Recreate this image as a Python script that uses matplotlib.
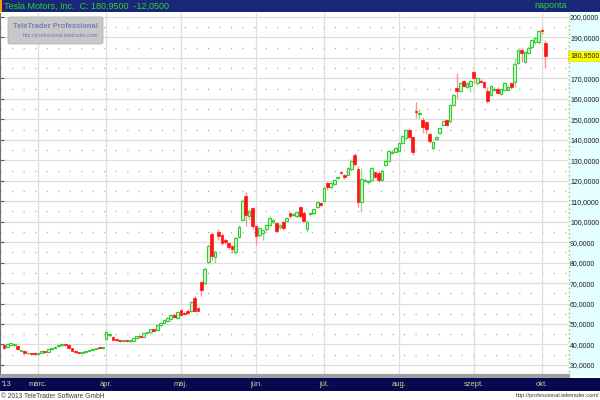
import numpy as np
import matplotlib
matplotlib.use('Agg')
import matplotlib.pyplot as plt
from matplotlib.patches import Rectangle, FancyBboxPatch
from matplotlib.transforms import blended_transform_factory

plt.rcParams['font.family'] = ['Liberation Sans', 'DejaVu Sans']

# daily candles, Feb 14 2013 .. Oct 2 2013 (trading days)
opens = [
  # feb
  39.6, 38.6, 39.8, 39.6, 39.4, 37.0, 37.0, 35.6, 35.8, 35.9,
  # mar
  35.4, 35.8, 36.9, 36.5, 37.7, 38.3, 39.1, 39.6, 39.9, 39.9,
  38.2, 37.0, 36.3, 36.0, 36.4, 36.8, 37.3, 38.0, 38.3, 38.2,
  # apr
  42.8, 44.8, 43.8, 42.4, 42.0, 41.8, 42.2, 41.6, 41.9, 43.2, 44.0,
  43.8, 45.5, 46.0, 47.4, 46.9, 49.3, 50.6, 51.5, 52.6, 54.3, 53.0,
  # may
  56.8, 55.6, 56.6, 56.2, 62.6, 57.8, 70.4, 70.2, 80.5, 94.0, 82.5,
  95.0, 93.4, 91.2, 89.4, 88.0, 85.0, 92.6, 101.0, 112.5, 102.8, 106.5,
  # jun
  97.8, 93.6, 94.6, 96.2, 98.6, 100.0, 99.4, 97.2, 100.0, 100.2,
  104.2, 103.2, 102.6, 107.0, 104.4, 96.4, 103.6, 104.2, 107.2, 109.0,
  # jul
  110.0, 119.0, 116.8, 118.6, 121.4, 124.4, 122.8, 123.0, 125.6, 132.4, 125.8,
  109.6, 120.0, 119.2, 120.6, 124.2, 124.0, 120.2, 127.8, 129.4, 133.6, 134.2,
  # aug
  134.4, 138.6, 141.0, 145.0, 141.2, 154.2, 152.4, 149.6, 148.6, 143.0, 136.2,
  140.6, 143.4, 147.2, 149.6, 149.0, 157.2, 165.2, 164.0, 168.6, 165.8, 166.2,
  # sep
  173.0, 167.8, 168.8, 168.2, 163.6, 162.0, 164.2, 165.0, 162.6, 164.4,
  164.2, 167.6, 168.4, 177.6, 184.0, 178.2, 182.6, 185.4, 187.6, 188.0,
  # oct
  193.6, 187.5,
]
highs = [
  40.0, 40.6, 40.8, 40.4, 39.6, 37.4, 37.2, 36.2, 36.0, 36.2,
  36.0, 36.9, 37.0, 37.8, 38.5, 39.2, 39.7, 40.2, 40.2, 40.1,
  38.4, 37.2, 36.5, 36.6, 37.0, 37.5, 38.1, 38.4, 38.6, 38.5,
  47.2, 45.8, 44.2, 42.8, 42.4, 42.4, 42.4, 42.2, 43.4, 44.2, 44.4,
  45.9, 46.2, 47.8, 47.6, 49.6, 51.0, 52.4, 53.2, 54.8, 55.0, 56.2,
  57.4, 56.2, 57.2, 61.0, 63.6, 58.2, 71.0, 78.0, 89.0, 95.0, 86.2,
  96.5, 94.5, 92.0, 90.0, 88.8, 93.0, 98.2, 111.0, 114.5, 106.2, 107.0,
  98.6, 97.5, 96.6, 98.8, 102.6, 101.2, 99.8, 99.0, 100.6, 102.2,
  104.8, 104.2, 105.0, 107.6, 105.0, 100.6, 104.8, 106.4, 110.0, 109.6,
  117.6, 119.6, 119.6, 121.0, 122.4, 125.0, 123.4, 126.6, 130.4, 133.4, 127.0,
  126.0, 121.2, 120.6, 126.6, 125.0, 124.6, 125.6, 130.4, 135.2, 134.8, 136.4,
  138.8, 142.4, 145.4, 145.6, 141.8, 158.5, 155.0, 151.0, 149.2, 143.6, 139.6,
  142.0, 146.0, 149.6, 150.2, 157.4, 162.4, 172.6, 168.4, 169.2, 168.0, 169.4,
  173.6, 170.8, 169.6, 168.6, 166.0, 167.0, 165.6, 165.6, 165.4, 168.2,
  166.6, 168.4, 180.0, 184.6, 185.0, 183.6, 185.6, 189.2, 190.2, 193.8,
  194.6, 188.8,
]
lows = [
  38.0, 38.4, 39.4, 39.2, 37.4, 36.6, 35.4, 35.2, 34.9, 35.1,
  35.1, 35.6, 36.0, 36.4, 37.5, 38.1, 38.9, 39.3, 39.5, 38.0,
  36.8, 36.0, 35.8, 35.9, 36.2, 36.6, 37.1, 37.8, 38.0, 37.9,
  42.4, 43.6, 42.0, 41.6, 41.4, 41.4, 41.3, 41.2, 41.7, 42.9, 43.4,
  43.6, 45.0, 45.8, 46.5, 46.7, 49.0, 50.3, 51.0, 52.2, 53.0, 52.4,
  53.8, 54.4, 55.0, 55.8, 55.8, 56.2, 63.6, 69.0, 79.5, 81.5, 80.0,
  91.0, 88.5, 89.0, 86.5, 84.8, 84.0, 92.0, 100.5, 98.0, 100.8, 96.5,
  88.6, 92.5, 91.0, 95.6, 98.0, 99.4, 95.0, 96.4, 96.0, 99.6,
  102.0, 102.8, 102.0, 102.0, 99.6, 95.0, 103.0, 103.8, 106.8, 107.6,
  109.6, 115.6, 115.8, 118.0, 121.0, 123.2, 121.0, 122.6, 125.0, 127.4, 107.0,
  104.7, 119.4, 118.6, 120.0, 121.4, 119.4, 119.8, 127.4, 129.0, 133.0, 133.8,
  134.0, 138.0, 140.4, 141.0, 132.6, 150.7, 150.4, 143.5, 143.0, 138.6, 134.8,
  140.0, 143.0, 146.6, 146.8, 148.4, 156.8, 160.4, 163.2, 165.6, 165.2, 163.4,
  167.8, 166.6, 167.6, 165.4, 158.0, 161.4, 163.6, 162.2, 162.0, 164.0,
  163.8, 165.0, 166.0, 176.8, 178.0, 177.4, 182.0, 185.0, 187.0, 186.8,
  191.8, 175.0,
]
closes = [
  38.4, 40.2, 40.5, 40.0, 37.6, 37.2, 35.8, 35.9, 35.2, 35.4,
  35.8, 36.7, 36.3, 37.6, 38.3, 39.0, 39.5, 39.9, 39.8, 38.3,
  37.0, 36.2, 36.0, 36.4, 36.8, 37.3, 37.9, 38.3, 38.2, 38.4,
  46.0, 45.2, 42.4, 42.0, 41.8, 42.1, 41.6, 41.9, 43.2, 43.9, 43.7,
  45.6, 45.9, 47.5, 46.8, 49.3, 50.6, 52.0, 52.8, 54.4, 53.4, 55.8,
  54.2, 54.8, 55.6, 60.6, 56.4, 56.6, 66.8, 77.0, 88.0, 83.0, 85.2,
  92.8, 89.8, 90.2, 87.6, 86.5, 92.0, 97.4, 110.0, 103.5, 105.0, 97.8,
  93.0, 96.8, 96.0, 98.4, 102.0, 100.7, 95.6, 98.4, 96.8, 101.8,
  102.6, 103.8, 104.6, 102.6, 100.4, 100.0, 104.2, 106.0, 109.4, 108.2,
  116.6, 116.8, 119.0, 120.4, 122.0, 123.8, 121.8, 126.0, 129.8, 128.0, 109.4,
  121.0, 120.6, 120.0, 126.0, 122.0, 120.6, 125.0, 129.8, 134.6, 134.2, 135.8,
  138.2, 141.8, 144.8, 141.6, 134.2, 153.4, 153.0, 146.2, 145.2, 139.4, 139.0,
  141.4, 145.6, 149.0, 147.4, 156.8, 161.8, 163.6, 167.8, 166.2, 167.6, 168.8,
  170.2, 170.2, 168.2, 166.0, 159.2, 166.4, 165.0, 163.0, 164.8, 167.6,
  166.0, 165.6, 177.2, 183.8, 182.6, 183.0, 184.8, 188.6, 189.6, 193.4,
  193.0, 180.95,
]

month_labels = ["márc.", "ápr.", "máj.", "jún.", "júl.", "aug.", "szept.", "okt."]
month_starts = [10, 30, 52, 74, 94, 116, 138, 158]
price_ticks = [30, 40, 50, 60, 70, 80, 90, 100, 110, 120, 130, 140, 150,
               160, 170, 190, 200]
last_price = 180.95
change = -12.05

W, H = 600, 400
def fx(px):
  return px / W
def fy(py):
  return 1 - py / H

def hu(v):
  return f"{v:.4f}".replace('.', ',')

fig = plt.figure(figsize=(6, 4), dpi=100)
fig.patch.set_facecolor('white')

ax = fig.add_axes([0, fy(376), fx(568), (376 - 13) / H])
ax.set_facecolor('white')
ax.set_xlim(-1.16, 165.65)
ax.set_ylim(24.6, 201.95)

o = np.array(opens); h = np.array(highs); l = np.array(lows); c = np.array(closes)
x = np.arange(len(c))
up = c >= o

# grid
for v in range(30, 201, 10):
  ax.axhline(v, color='#dedede', lw=0.9, zorder=0)
for v in range(25, 201, 10):
  ax.axhline(v, color='#a8a8a8', lw=1.0, ls=(0, (0.8, 7.5)), zorder=0)
for m in month_starts:
  ax.axvline(m, color='#dedede', lw=0.9, zorder=0)

# candles
ax.vlines(x[up], l[up], h[up], color='#8fe08f', lw=1.0, zorder=2)
ax.vlines(x[~up], l[~up], h[~up], color='#ff9090', lw=1.0, zorder=2)
bot = np.minimum(o, c)
hgt = np.maximum(np.abs(c - o), 0.45)
ax.bar(x[up], hgt[up], bottom=bot[up], width=0.8, color='#d4f6d4',
       edgecolor='#33cc33', lw=0.8, zorder=3)
ax.bar(x[~up], hgt[~up], bottom=bot[~up], width=0.8, color='#ff1414',
       edgecolor='#ff1414', lw=0.5, zorder=3)

# axes styling
for s in ['top', 'right']:
  ax.spines[s].set_visible(False)
ax.spines['left'].set_color('#707070')
ax.spines['bottom'].set_color('#a0a0a0')
ax.spines['bottom'].set_linewidth(3)
ax.set_xticks([])
ax.set_yticks(price_ticks)
ax.set_yticklabels([hu(v) for v in price_ticks])
ax.tick_params(axis='y', left=True, right=False, labelleft=False, labelright=True,
               direction='in', length=3, color='#606060', labelsize=5.0,
               labelcolor='#1a1a1a', pad=1.5)

# right price panel
fig.patches.append(Rectangle((fx(568), fy(376)), fx(32), (376 - 13) / H,
                             transform=fig.transFigure, facecolor='#e4ffff',
                             edgecolor='none', zorder=-1))
fig.add_artist(plt.Line2D([fx(569), fx(569)], [fy(376), fy(13)],
                          transform=fig.transFigure, color='#c8b45a', lw=1,
                          ls=(0, (1, 2))))
ax.annotate(hu(last_price), xy=(1, last_price),
            xycoords=('axes fraction', 'data'), xytext=(1.5, 0),
            textcoords='offset points', ha='left', va='center', fontsize=5.0,
            color='#1a1a1a', annotation_clip=False,
            bbox=dict(boxstyle='square,pad=0.25', fc='#ffff00', ec='#e0e000', lw=0.5))

# header
fig.patches.append(Rectangle((0, fy(12)), 1, 12 / H, transform=fig.transFigure,
                             facecolor='#1a2778', edgecolor='none'))
fig.patches.append(Rectangle((0, fy(12)), fx(2), 12 / H, transform=fig.transFigure,
                             facecolor='#ff9900', edgecolor='none'))
fig.text(fx(4), fy(6), f"Tesla Motors, Inc.  C: {hu(last_price)}  {hu(change)}",
         color='#2ad42a', fontsize=6.5, va='center', ha='left')
fig.text(fx(567), fy(6), "naponta", color='#2ad42a', fontsize=6.5, va='center', ha='right')

# watermark
fig.patches.append(FancyBboxPatch((fx(8), fy(44)), fx(95), 27 / H,
                                  boxstyle='round,pad=0,rounding_size=0.004',
                                  transform=fig.transFigure, facecolor='#c8c8c8',
                                  edgecolor='#b4b4b4', lw=0.6, zorder=4))
fig.text(fx(13), fy(26), "TeleTrader Professional", color='#7381b8', fontsize=5.4,
         fontweight='bold', va='center', ha='left', zorder=5)
fig.text(fx(23), fy(35.5), "http://professional.teletrader.com/", color='#6d7ab0',
         fontsize=3.6, va='center', ha='left', zorder=5)

# bottom time bar
fig.patches.append(Rectangle((0, fy(391)), 1, 13 / H, transform=fig.transFigure,
                             facecolor='#07094f', edgecolor='none'))
bt = blended_transform_factory(ax.transData, fig.transFigure)
fig.text(fx(2), fy(384.5), "'13", color='#d8d09c', fontsize=5.4, va='center', ha='left')
for lab, m in zip(month_labels, month_starts):
  fig.text(m, fy(384.5), lab, transform=bt, color='#d8d09c', fontsize=5.4,
           va='center', ha='center')

# footer
fig.text(fx(1), fy(396), "© 2013 TeleTrader Software GmbH", color='#3a3a3a',
         fontsize=4.8, va='center', ha='left')
fig.text(fx(599), fy(396), "http://professional.teletrader.com/", color='#3a3a3a',
         fontsize=4.1, va='center', ha='right')

fig.savefig('out.png', dpi=100)
